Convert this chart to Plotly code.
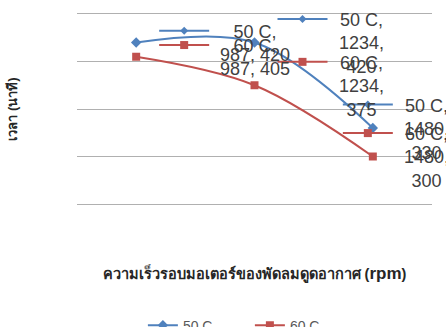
import plotly.graph_objects as go

# Fan motor speed (rpm) vs drying time (minutes) at two temperatures
rpm = ["987", "1234", "1480"]
series_names = ["50 C", "60 C"]
time_50c = [420, 420, 330]
time_60c = [405, 375, 300]

blue = "#4F81BD"
red = "#C0504D"
grid = "#b0b0b0"
label_color = "#404040"
label_font = "Liberation Sans"
label_size = 18
line_gap = label_size * 1.3

# horizontal pixel offset of each label's key, per category
key_left = [23, 23, -30]

fig = go.Figure()
styles = [
    (series_names[0], time_50c, blue, "diamond", 8),
    (series_names[1], time_60c, red, "square", 8),
]
for name, vals, color, symbol, msize in styles:
    fig.add_trace(go.Scatter(
        x=rpm, y=vals, name=name, mode="lines+markers",
        line=dict(color=color, width=2, shape="spline", smoothing=1),
        marker=dict(symbol=symbol, size=msize, color=color),
    ))

# Data labels with their legend keys beside each point
for name, vals, color, symbol, msize in styles:
    for i, (cat, v) in enumerate(zip(rpm, vals)):
        if i == 0:
            text = f"{name},<br>{cat}, {v}"
            n_lines = 2
        else:
            text = f"{name},<br>{cat},<br>{v}"
            n_lines = 3
        kx0 = key_left[i]
        ky = (n_lines - 1) / 2 * line_gap
        fig.add_annotation(
            x=i, y=v, xref="x", yref="y", text=text, showarrow=False,
            xanchor="left", yanchor="middle", align="center",
            xshift=kx0 + 59, yshift=-1,
            font=dict(family=label_font, size=label_size, color=label_color),
        )
        fig.add_shape(
            type="line", xref="x", yref="y", xsizemode="pixel", ysizemode="pixel",
            xanchor=i, yanchor=v, x0=kx0, x1=kx0 + 50, y0=ky, y1=ky,
            line=dict(color=color, width=2), layer="above",
        )
        cx = kx0 + 25
        if symbol == "square":
            fig.add_shape(
                type="rect", xref="x", yref="y", xsizemode="pixel", ysizemode="pixel",
                xanchor=i, yanchor=v, x0=cx - 4, x1=cx + 4, y0=ky - 4, y1=ky + 4,
                fillcolor=color, line=dict(width=0), layer="above",
            )
        else:
            fig.add_shape(
                type="path", xref="x", yref="y", xsizemode="pixel", ysizemode="pixel",
                xanchor=i, yanchor=v,
                path=f"M {cx - 4} {ky} L {cx} {ky + 4} L {cx + 4} {ky} L {cx} {ky - 4} Z",
                fillcolor=color, line=dict(width=0), layer="above",
            )

fig.update_layout(
    width=446, height=327,
    margin=dict(l=77, r=14, t=10, b=119, autoexpand=False),
    paper_bgcolor="white", plot_bgcolor="white",
    showlegend=True,
    legend=dict(
        orientation="h", x=0.487, xanchor="center", y=-0.513, yanchor="top",
        font=dict(family=label_font, size=14, color="#595959"),
        entrywidth=62,
    ),
    xaxis=dict(
        type="category", range=[-0.5, 2.5], showticklabels=False, ticks="",
        showgrid=False, showline=False, zeroline=False,
        title=dict(
            text="<b>ความเร็วรอบมอเตอร์ของพัดลมดูดอากาศ (<span style='font-size:17px'>rpm</span>)</b>",
            font=dict(family="Liberation Sans", size=14.5, color="#262626"),
            standoff=60,
        ),
    ),
    yaxis=dict(
        range=[245.8, 454.2], tick0=250, dtick=50, showticklabels=False, ticks="",
        showgrid=True, gridcolor=grid, gridwidth=1, zeroline=False,
        title=dict(
            text="<b>เวลา (นาที)</b>",
            font=dict(family="Liberation Sans", size=13, color="#262626"),
            standoff=55,
        ),
    ),
)

fig.write_html("out.html")
